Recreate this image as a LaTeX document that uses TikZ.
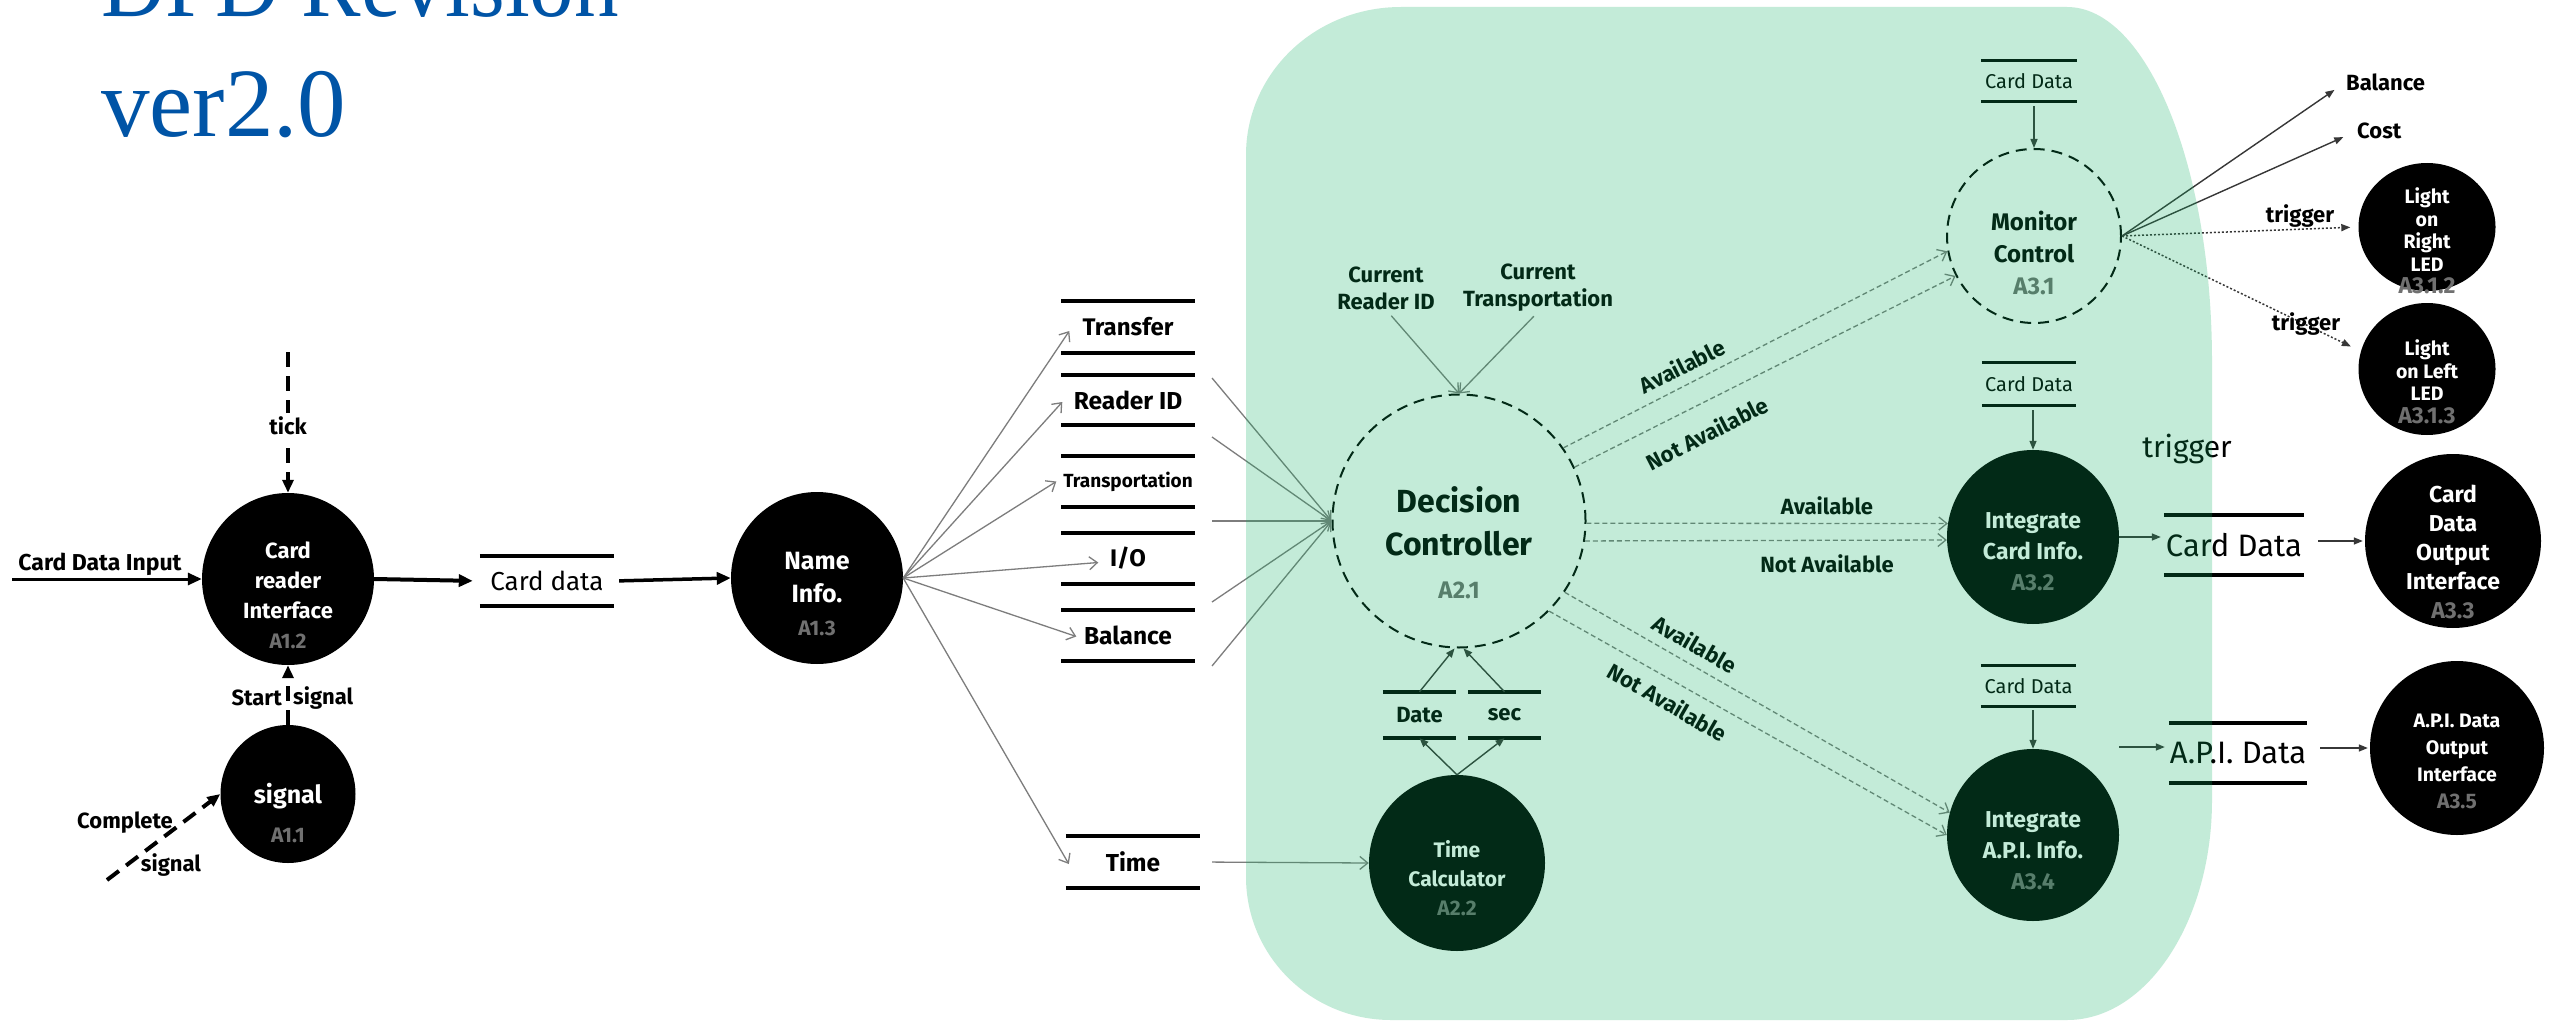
\documentclass[tikz,border=0pt]{standalone}
\usepackage{fontspec}
\setmainfont{Fira Sans}
\newfontfamily\titlefont{Liberation Serif}
\usetikzlibrary{shapes.geometric,arrows.meta,calc}

\definecolor{titleblue}{RGB}{0,84,166}
\definecolor{idgray}{RGB}{112,112,112}
\definecolor{wire}{RGB}{125,125,125}
\definecolor{wiredk}{RGB}{55,55,55}
\definecolor{zonegreen}{RGB}{12,173,95}

\newcommand\sizept[2]{\fontsize{#1pt}{#2pt}\selectfont}
\newcommand\idtag[2][21]{{\fontsize{#1pt}{#1pt}\selectfont\color{idgray}#2}}
\newcommand\storelines[2][]{\draw[storeline,#1] (#2.north west) -- (#2.north east) (#2.south west) -- (#2.south east);}

\tikzset{
  proc/.style={ellipse, fill=black, draw=none, inner sep=0pt},
  dproc/.style={ellipse, draw=black, line width=2pt, dash pattern=on 11pt off 7pt, inner sep=0pt},
  ptext/.style={text=white, align=center, inner sep=0pt},
  ltext/.style={text=black, align=center, inner sep=0pt},
  storebox/.style={inner sep=0pt, text=black},
  storeline/.style={line width=3.5pt, black},
  wireline/.style={draw=wire, line width=1.3pt},
  wiredark/.style={draw=wiredk, line width=1.4pt},
  openhead/.style={-{Straight Barb[length=8pt,width=13pt]}},
  fillhead/.style={-{Triangle[length=9pt,width=7pt]}},
  heavy/.style={line width=3.5pt, -{Triangle[length=14pt,width=12pt]}},
  bigdash/.style={line width=4pt, dash pattern=on 15pt off 9pt, -{Triangle[length=13pt,width=11pt]}},
  availdash/.style={draw=wire, line width=1.3pt, dash pattern=on 5pt off 3pt},
  trigdot/.style={draw=wiredk, line width=1.5pt, dash pattern=on 2pt off 2pt},
}

\begin{document}
\begin{tikzpicture}[x=1pt,y=-1pt]
\useasboundingbox (0,0) rectangle (2557,1022);
\fill[white] (0,0) rectangle (2557,1022);

% title
\node[anchor=base west, inner sep=0pt, text=titleblue, font=\titlefont\sizept{98}{98}] (title1) at (101,17) {\scalebox{0.91}[1]{DFD Revision}};
\node[anchor=base west, inner sep=0pt, text=titleblue, font=\titlefont\sizept{98}{98}] (title2) at (101,137) {\scalebox{0.99}[1]{ver2.0}};

% ---------- card reader side ----------
\node[proc, minimum width=172pt, minimum height=172pt] (a12) at (288,579) {};
\node[ptext, font=\bfseries\sizept{22}{30}] (a12t) at (288,595) {Card\\reader\\Interface\\\idtag{A1.2}};
\node[proc, minimum width=135pt, minimum height=138pt] (a11) at (288,794) {};
\node[ptext, font=\bfseries\sizept{25}{39}] (a11t) at (288,813) {signal\\\idtag{A1.1}};

\coordinate (cdin) at (12,579);
\draw[heavy, line width=3pt] (cdin) -- (a12.west);
\node[ltext, font=\bfseries\sizept{23}{23}] (cdinl) at (100,564) {Card Data Input};

\coordinate (tickin) at (288,352);
\draw[bigdash] (tickin) -- (a12.north);
\node[ltext, fill=white, inner sep=4pt, font=\bfseries\sizept{22}{22}] (tickl) at (288,426) {tick};

\draw[bigdash] (a11.north) -- (a12.south);
\node[ltext, anchor=east, font=\bfseries\sizept{22}{22}] (startl) at (282,698) {Start};
\node[ltext, anchor=west, font=\bfseries\sizept{22}{22}] (startl2) at (293,698) {signal};

\coordinate (cpin) at (107,880);
\draw[bigdash] (cpin) -- (a11.west);
\node[ltext, font=\bfseries\sizept{22}{22}] (cpl1) at (125,823) {Complete};
\node[ltext, font=\bfseries\sizept{22}{22}] (cpl2) at (171,865) {signal};

% card data store and name info
\node[storebox, minimum width=134pt, minimum height=50pt, font=\sizept{26}{26}] (cdata) at (547,581) {Card data};
\storelines{cdata}
\node[proc, minimum width=172pt, minimum height=172pt] (a13) at (817,578) {};
\node[ptext, font=\bfseries\sizept{25}{33}] (a13t) at (817,594) {Name\\Info.\\\idtag{A1.3}};
\draw[heavy, line width=4pt, shorten >=7pt] (a12.east) -- (cdata.west);
\draw[heavy, shorten <=5pt] (cdata.east) -- (a13.west);

% extracted data stores
\node[storebox, minimum width=133pt, minimum height=52pt, font=\bfseries\sizept{24}{24}] (sttr) at (1128,327) {Transfer};
\node[storebox, minimum width=133pt, minimum height=50pt, font=\bfseries\sizept{24.5}{24}] (strid) at (1128,400) {Reader ID};
\node[storebox, minimum width=133pt, minimum height=51pt, font=\bfseries\sizept{19}{19}] (sttp) at (1128,481.5) {Transportation};
\node[storebox, minimum width=133pt, minimum height=51pt, font=\bfseries\sizept{24}{24}] (stio) at (1128,558.5) {I/O};
\node[storebox, minimum width=133pt, minimum height=51pt, font=\bfseries\sizept{24.5}{24}] (stbal) at (1128,635.5) {Balance};
\node[storebox, minimum width=134pt, minimum height=52pt, font=\bfseries\sizept{24.5}{24}] (sttime) at (1133,862) {Time};
\foreach \s in {sttr,strid,sttp,stio,stbal,sttime} {\storelines{\s}}

\foreach \t/\dx/\dy in {sttr/8/4, strid/1/2, sttp/-5/0, stio/37/4, stbal/15/1, sttime/3/2}
  \draw[wireline, openhead] (a13.east) -- ($(\t.west)+(\dx,\dy)$);

% decision controller
\node[dproc, minimum width=253pt, minimum height=253pt] (dc) at (1459,521) {};
\node[ltext, font=\bfseries\sizept{32}{43}] (dct) at (1459,543) {Decision\\Controller\\\idtag[24]{A2.1}};

\coordinate (in1) at (1212,378);
\coordinate (in2) at (1212,437);
\coordinate (in3) at (1212,521);
\coordinate (in4) at (1212,602);
\coordinate (in5) at (1212,666);
\foreach \c in {in1,in2,in3,in4,in5}
  \draw[wireline, openhead] (\c) -- (dc.west);

\node[ltext, font=\bfseries\sizept{22}{27}] (crid) at (1386,288) {Current\\Reader ID};
\node[ltext, font=\bfseries\sizept{22}{27}] (crtp) at (1538,288) {Current\\Transportation};
\draw[wireline, openhead, shorten <=8pt] (crid.south) -- (dc.north);
\draw[wireline, openhead, shorten <=6pt] (crtp.south) -- (dc.north);

% time calculator
\node[proc, minimum width=176pt, minimum height=176pt] (tc) at (1457,863) {};
\node[ptext, font=\bfseries\sizept{21}{29}] (tct) at (1457,878) {Time\\Calculator\\\idtag{A2.2}};
\node[storebox, minimum width=73pt, minimum height=46pt, font=\bfseries\sizept{22}{22}] (date) at (1419.5,715) {Date};
\node[storebox, minimum width=73pt, minimum height=46pt, font=\bfseries\sizept{22}{22}] (sec) at (1504.5,715) {sec};
\storelines{date}
\storelines{sec}
\draw[wiredark, fillhead] (date.north) -- (dc.268);
\draw[wiredark, fillhead] (sec.north) -- (dc.272);
\draw[wiredark, fillhead] (tc.north) -- (date.south);
\draw[wiredark, fillhead] (tc.north) -- (sec.south);
\draw[wireline, openhead, shorten <=12pt] (sttime.east) -- (tc.west);

% level 3 processes
\node[dproc, minimum width=174pt, minimum height=174pt] (mc) at (2034,236) {};
\node[ltext, font=\bfseries\sizept{24}{32}] (mct) at (2034,253) {Monitor\\Control\\\idtag[24]{A3.1}};
\node[proc, minimum width=172pt, minimum height=174pt] (a32) at (2033,537) {};
\node[ptext, font=\bfseries\sizept{23}{31}] (a32t) at (2033,552) {Integrate\\Card Info.\\\idtag[23]{A3.2}};
\node[proc, minimum width=172pt, minimum height=172pt] (a34) at (2033,835) {};
\node[ptext, font=\bfseries\sizept{23}{31}] (a34t) at (2033,851) {Integrate\\A.P.I. Info.\\\idtag[23]{A3.4}};

\node[storebox, minimum width=96pt, minimum height=40pt, font=\sizept{20}{20}] (mcst) at (2029,81) {Card Data};
\node[storebox, minimum width=94pt, minimum height=42pt, font=\sizept{20}{20}] (a32st) at (2029,384) {Card Data};
\node[storebox, minimum width=95pt, minimum height=40pt, font=\sizept{20}{20}] (a34st) at (2028.5,686) {Card Data};
\storelines[line width=3pt]{mcst}
\storelines[line width=3pt]{a32st}
\storelines[line width=3pt]{a34st}
\draw[wiredark, fillhead, shorten <=5pt] (mcst.south -| mc.north) -- (mc.north);
\draw[wiredark, fillhead, shorten <=5pt] (a32st.south -| a32.north) -- (a32.north);
\draw[wiredark, fillhead, shorten <=4pt] (a34st.south -| a34.north) -- (a34.north);

% decision outcomes
\draw[availdash, openhead] (dc.35) -- (mc.190);
\draw[availdash, openhead] (dc.25) -- (mc.207);
\draw[availdash, openhead] (dc.-1) -- (a32.171);
\draw[availdash, openhead] (dc.-9) -- (a32.182);
\draw[availdash, openhead] (dc.-34) -- (a34.165);
\draw[availdash, openhead] (dc.-45) -- (a34.180);
\node[ltext, rotate=27, font=\bfseries\sizept{22}{22}] (av1) at (1682,366) {Available};
\node[ltext, rotate=27, font=\bfseries\sizept{22}{22}] (nav1) at (1707,433) {Not Available};
\node[ltext, font=\bfseries\sizept{22}{22}] (av2) at (1827,506) {Available};
\node[ltext, font=\bfseries\sizept{22}{22}] (nav2) at (1827,564) {Not Available};
\node[ltext, rotate=-30, font=\bfseries\sizept{22}{22}] (av3) at (1695,644) {Available};
\node[ltext, rotate=-30, font=\bfseries\sizept{22}{22}] (nav3) at (1668,702) {Not Available};

% monitor outputs
\node[ltext, anchor=west, font=\bfseries\sizept{22}{22}] (lbal) at (2346,82) {Balance};
\node[ltext, anchor=west, font=\bfseries\sizept{22}{22}] (lcost) at (2357,131) {Cost};
\draw[wiredark, fillhead, shorten >=14pt] (mc.east) -- (lbal.west);
\draw[wiredark, fillhead, shorten >=15pt] (mc.east) -- (lcost.west);

\node[proc, minimum width=137pt, minimum height=128pt] (a312) at (2427,227) {};
\node[ptext, font=\bfseries\sizept{19.5}{22.5}] (a312t) at (2427,241) {Light\\on\\Right\\LED\\\idtag[23]{A3.1.2}};
\node[proc, minimum width=137pt, minimum height=132pt] (a313) at (2427,369) {};
\node[ptext, font=\bfseries\sizept{19.5}{22.5}] (a313t) at (2427,382) {Light\\on Left\\LED\\\idtag[23]{A3.1.3}};
\draw[trigdot, fillhead, shorten >=8pt] (mc.east) -- (a312.west);
\draw[trigdot, fillhead, shorten >=11pt] (mc.east) -- (a313.165);
\node[ltext, font=\bfseries\sizept{22}{22}] (trg1) at (2300,216) {trigger};
\node[ltext, font=\bfseries\sizept{22}{22}] (trg2) at (2306,324) {trigger};
\node[ltext, font=\sizept{30}{30}] (trg3) at (2187,449) {trigger};

% output interfaces
\node[storebox, minimum width=140pt, minimum height=60pt, font=\sizept{31}{31}] (cdout) at (2234,545) {Card Data};
\node[storebox, minimum width=138pt, minimum height=60pt, font=\sizept{31}{31}] (apiout) at (2238,753) {A.P.I. Data};
\storelines[line width=4.5pt]{cdout}
\storelines[line width=4.5pt]{apiout}

\node[proc, minimum width=176pt, minimum height=174pt] (a33) at (2453,541) {};
\node[ptext, font=\bfseries\sizept{23}{29}] (a33t) at (2453,552) {Card\\Data\\Output\\Interface\\\idtag[23]{A3.3}};
\node[proc, minimum width=174pt, minimum height=174pt] (a35) at (2457,748) {};
\node[ptext, font=\bfseries\sizept{19.5}{27}] (a35t) at (2457,761) {A.P.I. Data\\Output\\Interface\\\idtag[21]{A3.5}};

\draw[wiredark, fillhead, shorten >=3pt] (a32.east) -- (a32.east -| cdout.west);
\draw[wiredark, fillhead, shorten <=14pt, shorten >=2pt] (cdout.east |- a33.west) -- (a33.west);
\coordinate (apiin) at (2119,747);
\draw[wiredark, fillhead, shorten >=4pt] (apiin) -- (apiin -| apiout.west);
\draw[wiredark, fillhead, shorten <=13pt, shorten >=2pt] (apiout.east |- a35.west) -- (a35.west);

% translucent zone over the controller level
\fill[zonegreen, fill opacity=0.243]
  (1401,7) -- (2067,7)
  .. controls (2147,7) and (2212,166) .. (2212,362)
  -- (2212,800)
  .. controls (2212,921) and (2147,1020) .. (2067,1020)
  -- (1391,1020)
  .. controls (1311,1020) and (1246,956) .. (1246,877)
  -- (1246,155)
  .. controls (1246,73) and (1315,7) .. (1401,7) -- cycle;
\end{tikzpicture}
\end{document}
